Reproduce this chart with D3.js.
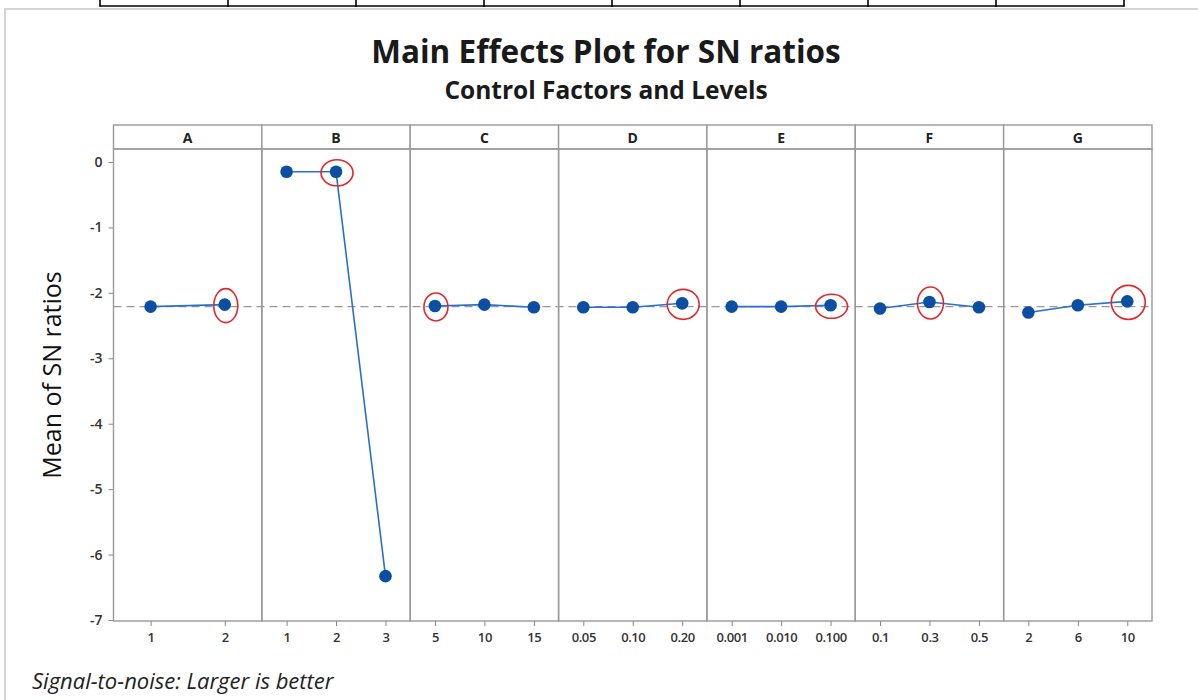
<!DOCTYPE html>
<html><head><meta charset="utf-8">
<script src="https://cdn.jsdelivr.net/npm/d3@7"></script>
<style>body{margin:0;background:#fff;}svg{display:block;}</style>
</head><body>
<script>
// ---- data ----
const factors = ["A","B","C","D","E","F","G"];
const levelsA = ["1","2"];
const levelsB = ["1","2","3"];
const levelsC = ["5","10","15"];
const levelsD = ["0.05","0.10","0.20"];
const levelsE = ["0.001","0.010","0.100"];
const levelsF = ["0.1","0.3","0.5"];
const levelsG = ["2","6","10"];
const valuesA = [-2.21, -2.18];
const valuesB = [-0.15, -0.15, -6.33];
const valuesC = [-2.20, -2.18, -2.22];
const valuesD = [-2.22, -2.22, -2.16];
const valuesE = [-2.21, -2.21, -2.19];
const valuesF = [-2.24, -2.14, -2.22];
const valuesG = [-2.30, -2.19, -2.13];
const optimalLevel = ["2","2","5","0.20","0.100","0.3","10"];
const yTicks = [0,-1,-2,-3,-4,-5,-6,-7];
const grandMean = -2.21;

const levels = [levelsA,levelsB,levelsC,levelsD,levelsE,levelsF,levelsG];
const values = [valuesA,valuesB,valuesC,valuesD,valuesE,valuesF,valuesG];

const W = 1198, H = 700;
const svg = d3.select("body").append("svg").attr("width", W).attr("height", H);
const font = "'Open Sans', 'Noto Sans', sans-serif";

// document-table remnants at top
svg.append("line").attr("x1",100).attr("x2",1124).attr("y1",6).attr("y2",6)
  .attr("stroke","#000").attr("stroke-width",1.6);
[100,228,356,484,612,740,868,996,1124].forEach(x=>{
  svg.append("line").attr("x1",x).attr("x2",x).attr("y1",0).attr("y2",6.8)
    .attr("stroke","#000").attr("stroke-width",1.6);
});
// outer frame
svg.append("rect").attr("x",5).attr("y",9).attr("width",W+10).attr("height",H+10)
  .attr("fill","none").attr("stroke","#d4d4d4").attr("stroke-width",2);

// titles
svg.append("text").attr("x",606).attr("y",63).attr("text-anchor","middle")
  .attr("font-family",font).attr("font-weight","bold").attr("font-size",31.5).attr("fill","#1a1a1a")
  .text("Main Effects Plot for SN ratios");
svg.append("text").attr("x",606).attr("y",99).attr("text-anchor","middle")
  .attr("font-family",font).attr("font-weight","bold").attr("font-size",24.5).attr("fill","#1a1a1a")
  .text("Control Factors and Levels");

const pLeft = 113.5, pRight = 1152, pTop = 125, stripH = 24, pBottom = 621;
const plotTop = pTop + stripH;
const panelW = (pRight-pLeft)/factors.length;

const y = d3.scaleLinear().domain([-7, 0]).range([620, 162]);

// y axis
const yAxis = svg.append("g").attr("transform",`translate(${pLeft},0)`)
  .call(d3.axisLeft(y).tickValues(yTicks).tickSize(5).tickPadding(6).tickFormat(d => String(d)));
yAxis.attr("font-size",null).attr("font-family",null);
yAxis.select(".domain").remove();
yAxis.selectAll("line").attr("stroke","#888");
yAxis.selectAll("text").style("font-family",font).style("font-size","14px").attr("fill","#333").style("font-weight","600");

svg.append("text").attr("transform","translate(61,375) rotate(-90)").attr("text-anchor","middle")
  .attr("font-family",font).attr("font-size",25).attr("fill","#111")
  .text("Mean of SN ratios");

// grand mean dashed line
svg.append("line").attr("x1",pLeft).attr("x2",pRight).attr("y1",y(grandMean)).attr("y2",y(grandMean))
  .attr("stroke","#999").attr("stroke-width",1.4).attr("stroke-dasharray","8,5");

const ellipseSize = [[12,17],[16,13],[12,14],[16,15],[16,12],[13,16],[17,17]];

factors.forEach((f,i)=>{
  const x0 = pLeft + i*panelW;
  const g = svg.append("g");
  const x = d3.scalePoint().domain(levels[i]).range([x0, x0+panelW]).padding(0.5);
  // strip
  g.append("rect").attr("x",x0).attr("y",pTop).attr("width",panelW).attr("height",stripH)
    .attr("fill","#fff").attr("stroke","#999").attr("stroke-width",1.4);
  g.append("text").attr("x",x0+panelW/2).attr("y",pTop+18).attr("text-anchor","middle")
    .attr("font-family",font).attr("font-weight","bold").attr("font-size",14).attr("fill","#222").text(f);
  // panel frame
  g.append("rect").attr("x",x0).attr("y",plotTop).attr("width",panelW).attr("height",pBottom-plotTop)
    .attr("fill","none").attr("stroke","#999").attr("stroke-width",1.4);
  // x axis
  const xa = g.append("g").attr("transform",`translate(0,${pBottom})`)
    .call(d3.axisBottom(x).tickSize(5).tickPadding(7));
  xa.attr("font-size",null).attr("font-family",null);
  xa.select(".domain").remove();
  xa.selectAll("line").attr("stroke","#888");
  xa.selectAll("text").style("font-family",font).style("font-size","13px").attr("fill","#333").style("font-weight","600")
    .style("letter-spacing","-0.4px");
  const pts = levels[i].map((l,j)=>({l, v: values[i][j]}));
  // line
  g.append("path").datum(pts)
    .attr("d", d3.line().x(d=>x(d.l)).y(d=>y(d.v)))
    .attr("fill","none").attr("stroke","#2a6fc9").attr("stroke-width",1.6);
  // markers
  g.selectAll("circle.pt").data(pts).join("circle").attr("class","pt")
    .attr("cx",d=>x(d.l)).attr("cy",d=>y(d.v)).attr("r",6.3).attr("fill","#0b4ea2");
  // highlight ellipse
  const opt = pts.find(d=>d.l===optimalLevel[i]);
  g.append("ellipse").attr("cx",x(opt.l)+1).attr("cy",y(opt.v)+1)
    .attr("rx",ellipseSize[i][0]).attr("ry",ellipseSize[i][1])
    .attr("fill","none").attr("stroke","#e5252b").attr("stroke-width",1.6);
});

svg.append("text").attr("x",32).attr("y",689)
  .attr("font-family",font).attr("font-style","italic").attr("font-size",22).attr("fill","#222")
  .text("Signal-to-noise: Larger is better");
</script>
</body></html>
